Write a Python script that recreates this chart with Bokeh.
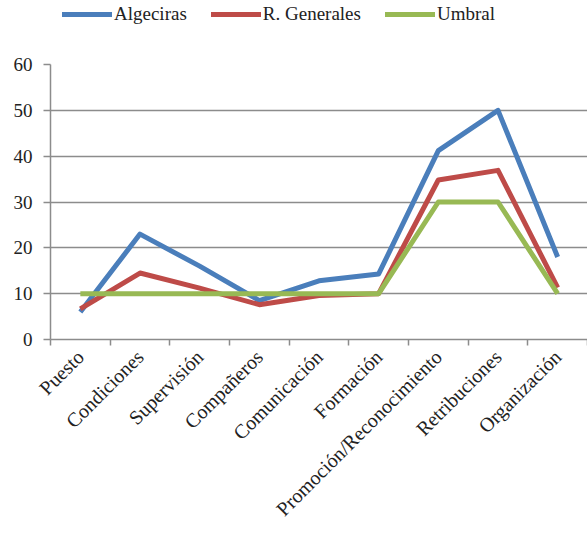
import math
from bokeh.plotting import figure
from bokeh.layouts import column
from bokeh.models import FixedTicker, Legend, LegendItem, Range1d
from bokeh.embed import file_html
from bokeh.resources import INLINE

categories = ["Puesto", "Condiciones", "Supervisión", "Compañeros", "Comunicación",
              "Formación", "Promoción/Reconocimiento", "Retribuciones", "Organización"]
algeciras = [6, 23, 16, 8.5, 12.8, 14.3, 41.2, 50, 18]
generales = [6.7, 14.5, 11.2, 7.6, 9.6, 10, 34.8, 36.9, 11.3]
umbral = [10, 10, 10, 10, 10, 10, 30, 30, 10]
y_ticks = [0, 10, 20, 30, 40, 50, 60]
series_names = ["Algeciras", "R. Generales", "Umbral"]
series_colors = ["#4A7EBB", "#BE4B48", "#98B954"]
series_values = [algeciras, generales, umbral]

FONT = "'Liberation Serif', 'DejaVu Serif', serif"
GRID = "#8c8c8c"

xs = [i + 0.5 for i in range(len(categories))]

# ---- legend strip (its lines lie outside its view; only the legend shows) ----
lg = figure(width=587, height=54, output_backend="svg", toolbar_location=None,
            x_range=Range1d(1000, 1001), y_range=Range1d(1000, 1001),
            x_axis_type=None, y_axis_type=None,
            min_border_left=0, min_border_right=0, min_border_top=0, min_border_bottom=0)
lg.outline_line_color = None
lg.xgrid.visible = False
lg.ygrid.visible = False
items = []
for name, col, vals in zip(series_names, series_colors, series_values):
    rr = lg.line(xs, vals, line_color=col, line_width=5, line_cap="round")
    items.append(LegendItem(label=name, renderers=[rr]))
legend = Legend(items=items, orientation="horizontal", location=(12, 29),
                label_text_font=FONT, label_text_font_size="19px",
                label_text_color="#222222",
                glyph_width=50, spacing=24, label_standoff=2,
                border_line_color=None, background_fill_alpha=0,
                margin=0, padding=4)
lg.add_layout(legend, "center")

# ---- main chart ----
p = figure(width=587, height=482, output_backend="svg", toolbar_location=None,
           x_range=Range1d(0, len(categories)), y_range=Range1d(0, 60),
           min_border_left=50, min_border_right=0, min_border_top=10,
           min_border_bottom=197)
p.outline_line_color = None
p.background_fill_color = "white"
p.border_fill_color = "white"

for col, vals in zip(series_colors, series_values):
    p.line(xs, vals, line_color=col, line_width=5, line_join="round")

p.xgrid.visible = False
p.ygrid.ticker = FixedTicker(ticks=y_ticks)
p.ygrid.grid_line_color = GRID
p.ygrid.grid_line_width = 1.5

xa = p.xaxis[0]
xa.ticker = FixedTicker(ticks=xs, minor_ticks=list(range(len(categories) + 1)))
xa.major_label_overrides = {x: c for x, c in zip(xs, categories)}
xa.major_label_orientation = math.pi / 4
xa.major_tick_line_color = None
xa.minor_tick_line_color = GRID
xa.minor_tick_line_width = 1.5
xa.minor_tick_out = 6
xa.minor_tick_in = 0
xa.axis_line_color = GRID
xa.axis_line_width = 1.5
xa.major_label_text_font = FONT
xa.major_label_text_font_size = "20px"
xa.major_label_text_color = "#222222"
xa.major_label_standoff = 8

ya = p.yaxis[0]
ya.ticker = FixedTicker(ticks=y_ticks)
ya.minor_tick_line_color = None
ya.major_tick_line_color = GRID
ya.major_tick_line_width = 1.5
ya.major_tick_out = 7
ya.major_tick_in = 0
ya.axis_line_color = GRID
ya.axis_line_width = 1.5
ya.major_label_text_font = FONT
ya.major_label_text_font_size = "19px"
ya.major_label_text_color = "#222222"
ya.major_label_standoff = 11

layout = column(lg, p, spacing=0)
open("out.html", "w").write(file_html(layout, INLINE))
